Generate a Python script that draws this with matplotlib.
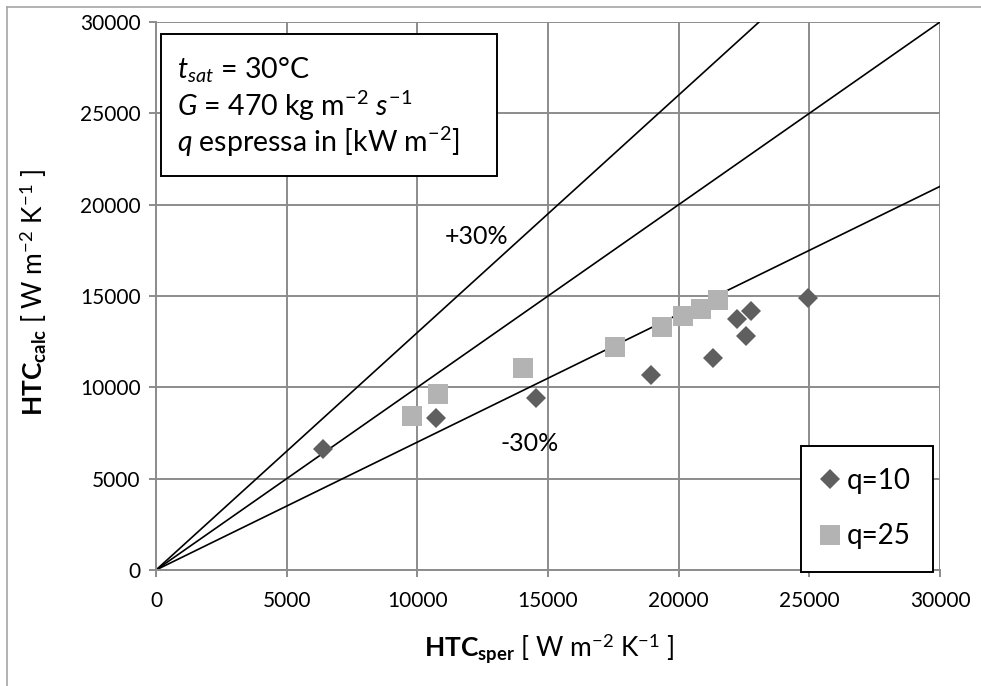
import matplotlib
matplotlib.use("Agg")
import matplotlib.pyplot as plt
from matplotlib.patches import Rectangle
from matplotlib.lines import Line2D

plt.rcParams['font.family'] = ['Lato', 'DejaVu Sans']
plt.rcParams['mathtext.fontset'] = 'custom'
plt.rcParams['mathtext.rm'] = 'Lato'
plt.rcParams['mathtext.it'] = 'Lato:italic'
plt.rcParams['mathtext.bf'] = 'Lato:bold'

# Experimental vs calculated heat transfer coefficients
q10_sper = [6400, 10700, 14550, 18950, 21330, 22220, 22570, 22770, 24940]
q10_calc = [6600, 8300, 9430, 10670, 11620, 13720, 12810, 14190, 14870]
q25_sper = [9790, 10780, 14060, 17570, 19350, 20150, 20860, 21500]
q25_calc = [8430, 9630, 11070, 12220, 13320, 13900, 14270, 14780]

ticks = [0, 5000, 10000, 15000, 20000, 25000, 30000]
ref_factors = [1.3, 1.0, 0.7]

W, H = 981, 686
fig = plt.figure(figsize=(W / 100, H / 100), dpi=100)
ax = fig.add_axes([156 / W, 1 - 570 / H, (940 - 156) / W, (570 - 22) / H])

grid_c = '#8c8c8c'
ax.set_xlim(0, 30000)
ax.set_ylim(0, 30000)
ax.set_xticks(ticks)
ax.set_yticks(ticks)
ax.grid(True, color=grid_c, linewidth=1.4)
ax.set_axisbelow(True)
for s in ['top', 'right']:
    ax.spines[s].set_visible(False)
for s in ['left', 'bottom']:
    ax.spines[s].set_color(grid_c)
    ax.spines[s].set_linewidth(1.4)
ax.tick_params(axis='both', direction='out', length=5, width=1.4, color=grid_c,
               labelsize=15)
ax.tick_params(axis='x', pad=10)
ax.tick_params(axis='y', pad=6)

# reference lines y = k x
for k in ref_factors:
    ax.plot([0, 30000], [0, 30000 * k], color='black', linewidth=1.2, zorder=2)

ax.plot(q10_sper, q10_calc, linestyle='none', marker='D', markersize=10,
        color='#5f5f5f', markeredgewidth=0, zorder=3, label='q=10')
ax.plot(q25_sper, q25_calc, linestyle='none', marker='s', markersize=14.5,
        color='#b3b3b3', markeredgewidth=0, zorder=3, label='q=25')

ax.text(12250, 18250, '+30%', fontsize=18, ha='center', va='center')
ax.text(14300, 6900, '-30%', fontsize=18, ha='center', va='center')

ax.set_xlabel(r'$\mathbf{HTC_{sper}}$ [ W m$^{-2}$ K$^{-1}$ ]', fontsize=19, va='center')
ax.set_ylabel(r'$\mathbf{HTC_{calc}}$ [ W m$^{-2}$ K$^{-1}$ ]', fontsize=19, va='center')
ax.xaxis.set_label_coords(0.501, -0.143)
ax.yaxis.set_label_coords(-0.157, 0.507)

# info box
fig.patches.append(Rectangle((161 / W, 1 - 176 / H), (497 - 161) / W, (176 - 34) / H,
                             transform=fig.transFigure, facecolor='white',
                             edgecolor='black', linewidth=1.4, zorder=5))
lines = [r'$t_{sat}$ = 30°C',
         r'$G$ = 470 kg m$^{-2}$ $s^{-1}$',
         r'$q$ espressa in [kW m$^{-2}$]']
for i, t in enumerate(lines):
    fig.text(177 / W, 1 - (70 + 36 * i) / H, t, fontsize=20.5, ha='left',
             va='center', zorder=6)

leg = ax.legend(loc='upper left', bbox_to_anchor=(801 / W, 1 - 446 / H),
                bbox_transform=fig.transFigure, fontsize=20, frameon=True,
                fancybox=False, edgecolor='black', framealpha=1,
                handlelength=0.5, handletextpad=0.35, labelspacing=1.05,
                borderpad=0.8, borderaxespad=0)
leg.get_frame().set_linewidth(1.4)

# outer chart border
fig.add_artist(Line2D([7 / W, 1], [1 - 7 / H, 1 - 7 / H], transform=fig.transFigure,
                      color='#a6a6a6', linewidth=1.2))
fig.add_artist(Line2D([7 / W, 7 / W], [0, 1 - 7 / H], transform=fig.transFigure,
                      color='#a6a6a6', linewidth=1.2))

fig.savefig('out.png', dpi=100, facecolor='white')
